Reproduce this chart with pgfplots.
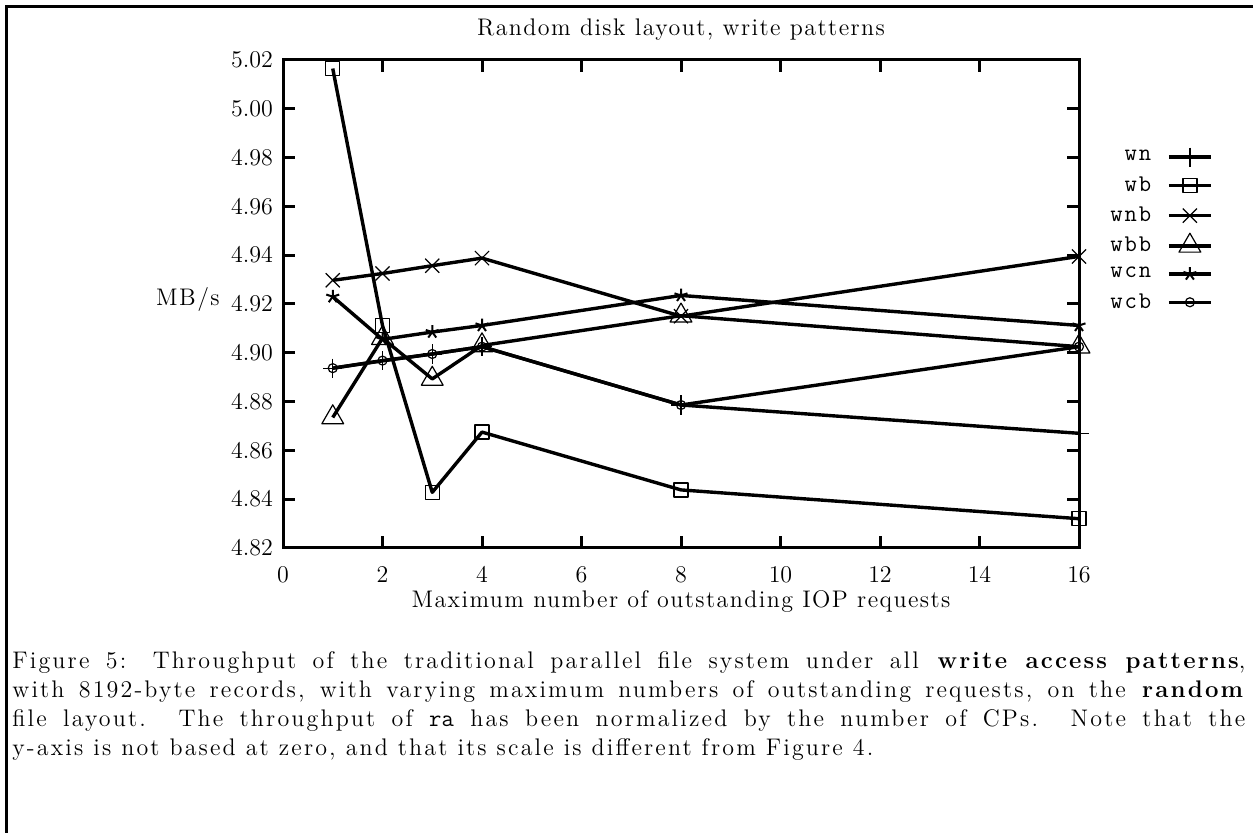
\documentclass[border=0pt]{standalone}
\usepackage{fontspec}
\usepackage{pgfplots}
\pgfplotsset{compat=1.18}
\newfontfamily\capfont{lmroman12-regular.otf}[LetterSpace=9, BoldFont=lmroman12-bold.otf]
\newfontfamily\labfont{lmroman12-regular.otf}[LetterSpace=6]
\newfontfamily\legfont{lmmono12-regular.otf}[LetterSpace=8]
\begin{document}
\begin{tikzpicture}
\useasboundingbox (0pt,0pt) rectangle (626.5pt,416.5pt);
\draw[line width=1.5pt] (3pt,0pt) -- (3pt,413pt) -- (626.5pt,413pt);
\begin{axis}[
  scale only axis, width=398pt, height=244pt,
  at={(141.5pt,142.5pt)}, anchor=south west,
  xmin=0, xmax=16, ymin=4.82, ymax=5.02,
  xtick={0,2,4,6,8,10,12,14,16},
  ytick={4.82,4.84,4.86,4.88,4.90,4.92,4.94,4.96,4.98,5.00,5.02},
  yticklabel style={xshift=-1.5pt, /pgf/number format/.cd, fixed, fixed zerofill, precision=2},
  ticklabel style={font=\fontsize{13}{15}\selectfont},
  xticklabel style={yshift=-8.5pt, inner sep=1pt},
  tick align=inside, major tick length=6pt,
  axis line style={line width=1.5pt},
  every tick/.style={line width=1.5pt, black},
  every axis plot/.append style={line width=1.7pt, black, line join=round},
  legend cell align=right,
  legend plot pos=right,
  legend style={draw=none, fill=none, at={(1,1)}, anchor=north east, xshift=70pt, yshift=-41pt,
     font=\legfont\fontsize{12}{14}\selectfont, row sep=2.3pt, column sep=6pt},
  legend image code/.code={\draw[mark repeat=2,mark phase=2] plot coordinates {(0pt,0pt)(10.5pt,0pt)(21pt,0pt)};},
]
\addplot[mark=+, mark size=4.8pt, mark options={line width=0.6pt, solid}] coordinates {(1,4.8937) (2,4.8967) (3,4.8995) (4,4.9025) (8,4.8786) (16,4.8670)};
\addlegendentry{wn}
\addplot[mark=square, mark size=3.5pt, mark options={line width=0.6pt, solid}] coordinates {(1,5.0165) (2,4.9112) (3,4.8428) (4,4.8675) (8,4.8438) (16,4.8320)};
\addlegendentry{wb}
\addplot[mark=x, mark size=5pt, mark options={line width=0.6pt, solid}] coordinates {(1,4.9297) (2,4.9325) (3,4.9357) (4,4.9388) (8,4.9150) (16,4.9395)};
\addlegendentry{wnb}
\addplot[mark=triangle, mark size=6.3pt, mark options={line width=0.6pt, solid}] coordinates {(1,4.8735) (2,4.9060) (3,4.8893) (4,4.9030) (8,4.9152) (16,4.9025)};
\addlegendentry{wbb}
\addplot[mark=star, mark size=3.4pt, mark options={line width=1pt, solid}] coordinates {(1,4.9230) (2,4.9055) (3,4.9085) (4,4.9112) (8,4.9235) (16,4.9112)};
\addlegendentry{wcn}
\addplot[mark=o, mark size=2.25pt, mark options={line width=0.6pt, solid}] coordinates {(1,4.8937) (2,4.8968) (3,4.8995) (4,4.9025) (8,4.8786) (16,4.9025)};
\addlegendentry{wcb}
\end{axis}
\node[font=\labfont\fontsize{12}{14}\selectfont] at (340.5pt,401.5pt) {Random disk layout, write patterns};
\node[font=\labfont\fontsize{12}{14}\selectfont, inner sep=0pt] at (94pt,266.5pt) {MB/s};
\node[anchor=base, inner sep=0pt, font=\labfont\fontsize{12}{14}\selectfont] at (340.5pt,112.5pt) {Maximum number of outstanding IOP requests};
\node[anchor=north west, inner sep=0pt, text width=616.5pt, align=justify, font=\capfont\fontsize{12}{14.5}\selectfont] at (6pt,91pt)
{Figure 5: Throughput of the traditional parallel file system under all \textbf{write access patterns},\linebreak
with 8192-byte records, with varying maximum numbers of outstanding requests, on the \textbf{random}\linebreak
file layout. The throughput of {\ttfamily ra} has been normalized by the number of CPs. Note that the\linebreak
y-axis is not based at zero, and that its scale is different from Figure 4.};
\end{tikzpicture}
\end{document}
